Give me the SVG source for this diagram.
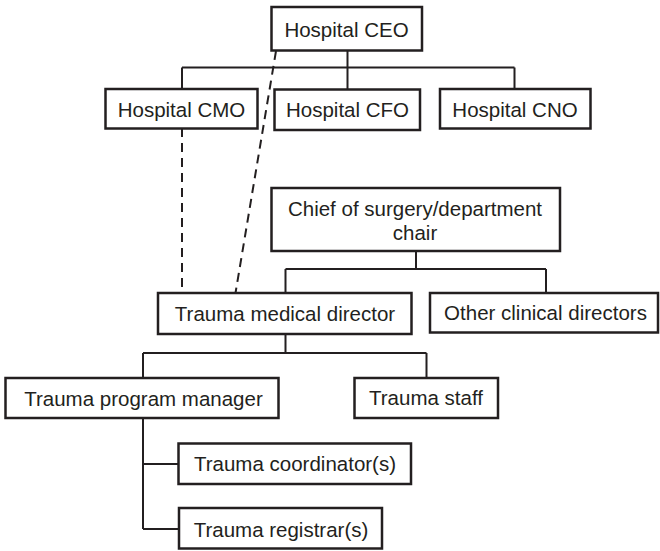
<svg xmlns="http://www.w3.org/2000/svg" width="660" height="551" viewBox="0 0 660 551">
<style>
.box{fill:#fff;stroke:#231f20;stroke-width:2.5}
.ln{fill:none;stroke:#231f20;stroke-width:2}
.dash{fill:none;stroke:#231f20;stroke-width:2;stroke-dasharray:9,6}
text{font-family:"Liberation Sans",Arial,sans-serif;font-size:20.5px;fill:#231f20;text-anchor:middle}
</style>
<rect width="660" height="551" fill="#fff"/>
<g id="connectors">
<path class="ln" d="M347.5,50.5V67.5M182,67.5H514.5M182,67.5V89M347.5,67.5V89M514.5,67.5V89"/>
<path class="ln" d="M416,251V269M285.5,269H546M285.5,269V293M546,269V293"/>
<path class="ln" d="M285.5,334V353M143,353H426.5M143,353V378M426.5,353V378"/>
<path class="ln" d="M143,418V529M143,464H178.5M143,529H179"/>
<path class="dash" d="M182,128V293"/>
<path class="dash" d="M276,51L235.5,293"/>
</g>
<g id="ceo"><rect class="box" x="271.5" y="7" width="150.5" height="43.5"/><text x="346.5" y="37">Hospital CEO</text></g>
<g id="cmo"><rect class="box" x="105.5" y="89" width="152" height="39.5"/><text x="181.5" y="116.5">Hospital CMO</text></g>
<g id="cfo"><rect class="box" x="274.5" y="89.5" width="145.5" height="40.5"/><text x="347.5" y="117">Hospital CFO</text></g>
<g id="cno"><rect class="box" x="440" y="89" width="150.5" height="39.5"/><text x="515" y="116.5">Hospital CNO</text></g>
<g id="chief"><rect class="box" x="271.5" y="188" width="288.5" height="63"/><text x="415" y="216">Chief of surgery/department</text><text x="415" y="240">chair</text></g>
<g id="tmd"><rect class="box" x="158" y="293" width="253.5" height="41"/><text x="285" y="320.5">Trauma medical director</text></g>
<g id="other"><rect class="box" x="430" y="293" width="228" height="39.5"/><text x="545.5" y="320">Other clinical directors</text></g>
<g id="tpm"><rect class="box" x="5.5" y="378" width="273" height="40"/><text x="143.5" y="405.5">Trauma program manager</text></g>
<g id="staff"><rect class="box" x="354.5" y="378" width="143.5" height="40"/><text x="426" y="405">Trauma staff</text></g>
<g id="coord"><rect class="box" x="178.5" y="443.5" width="232.5" height="40.5"/><text x="295" y="471">Trauma coordinator(s)</text></g>
<g id="reg"><rect class="box" x="179" y="508" width="203" height="40.5"/><text x="281" y="536.5">Trauma registrar(s)</text></g>
</svg>
